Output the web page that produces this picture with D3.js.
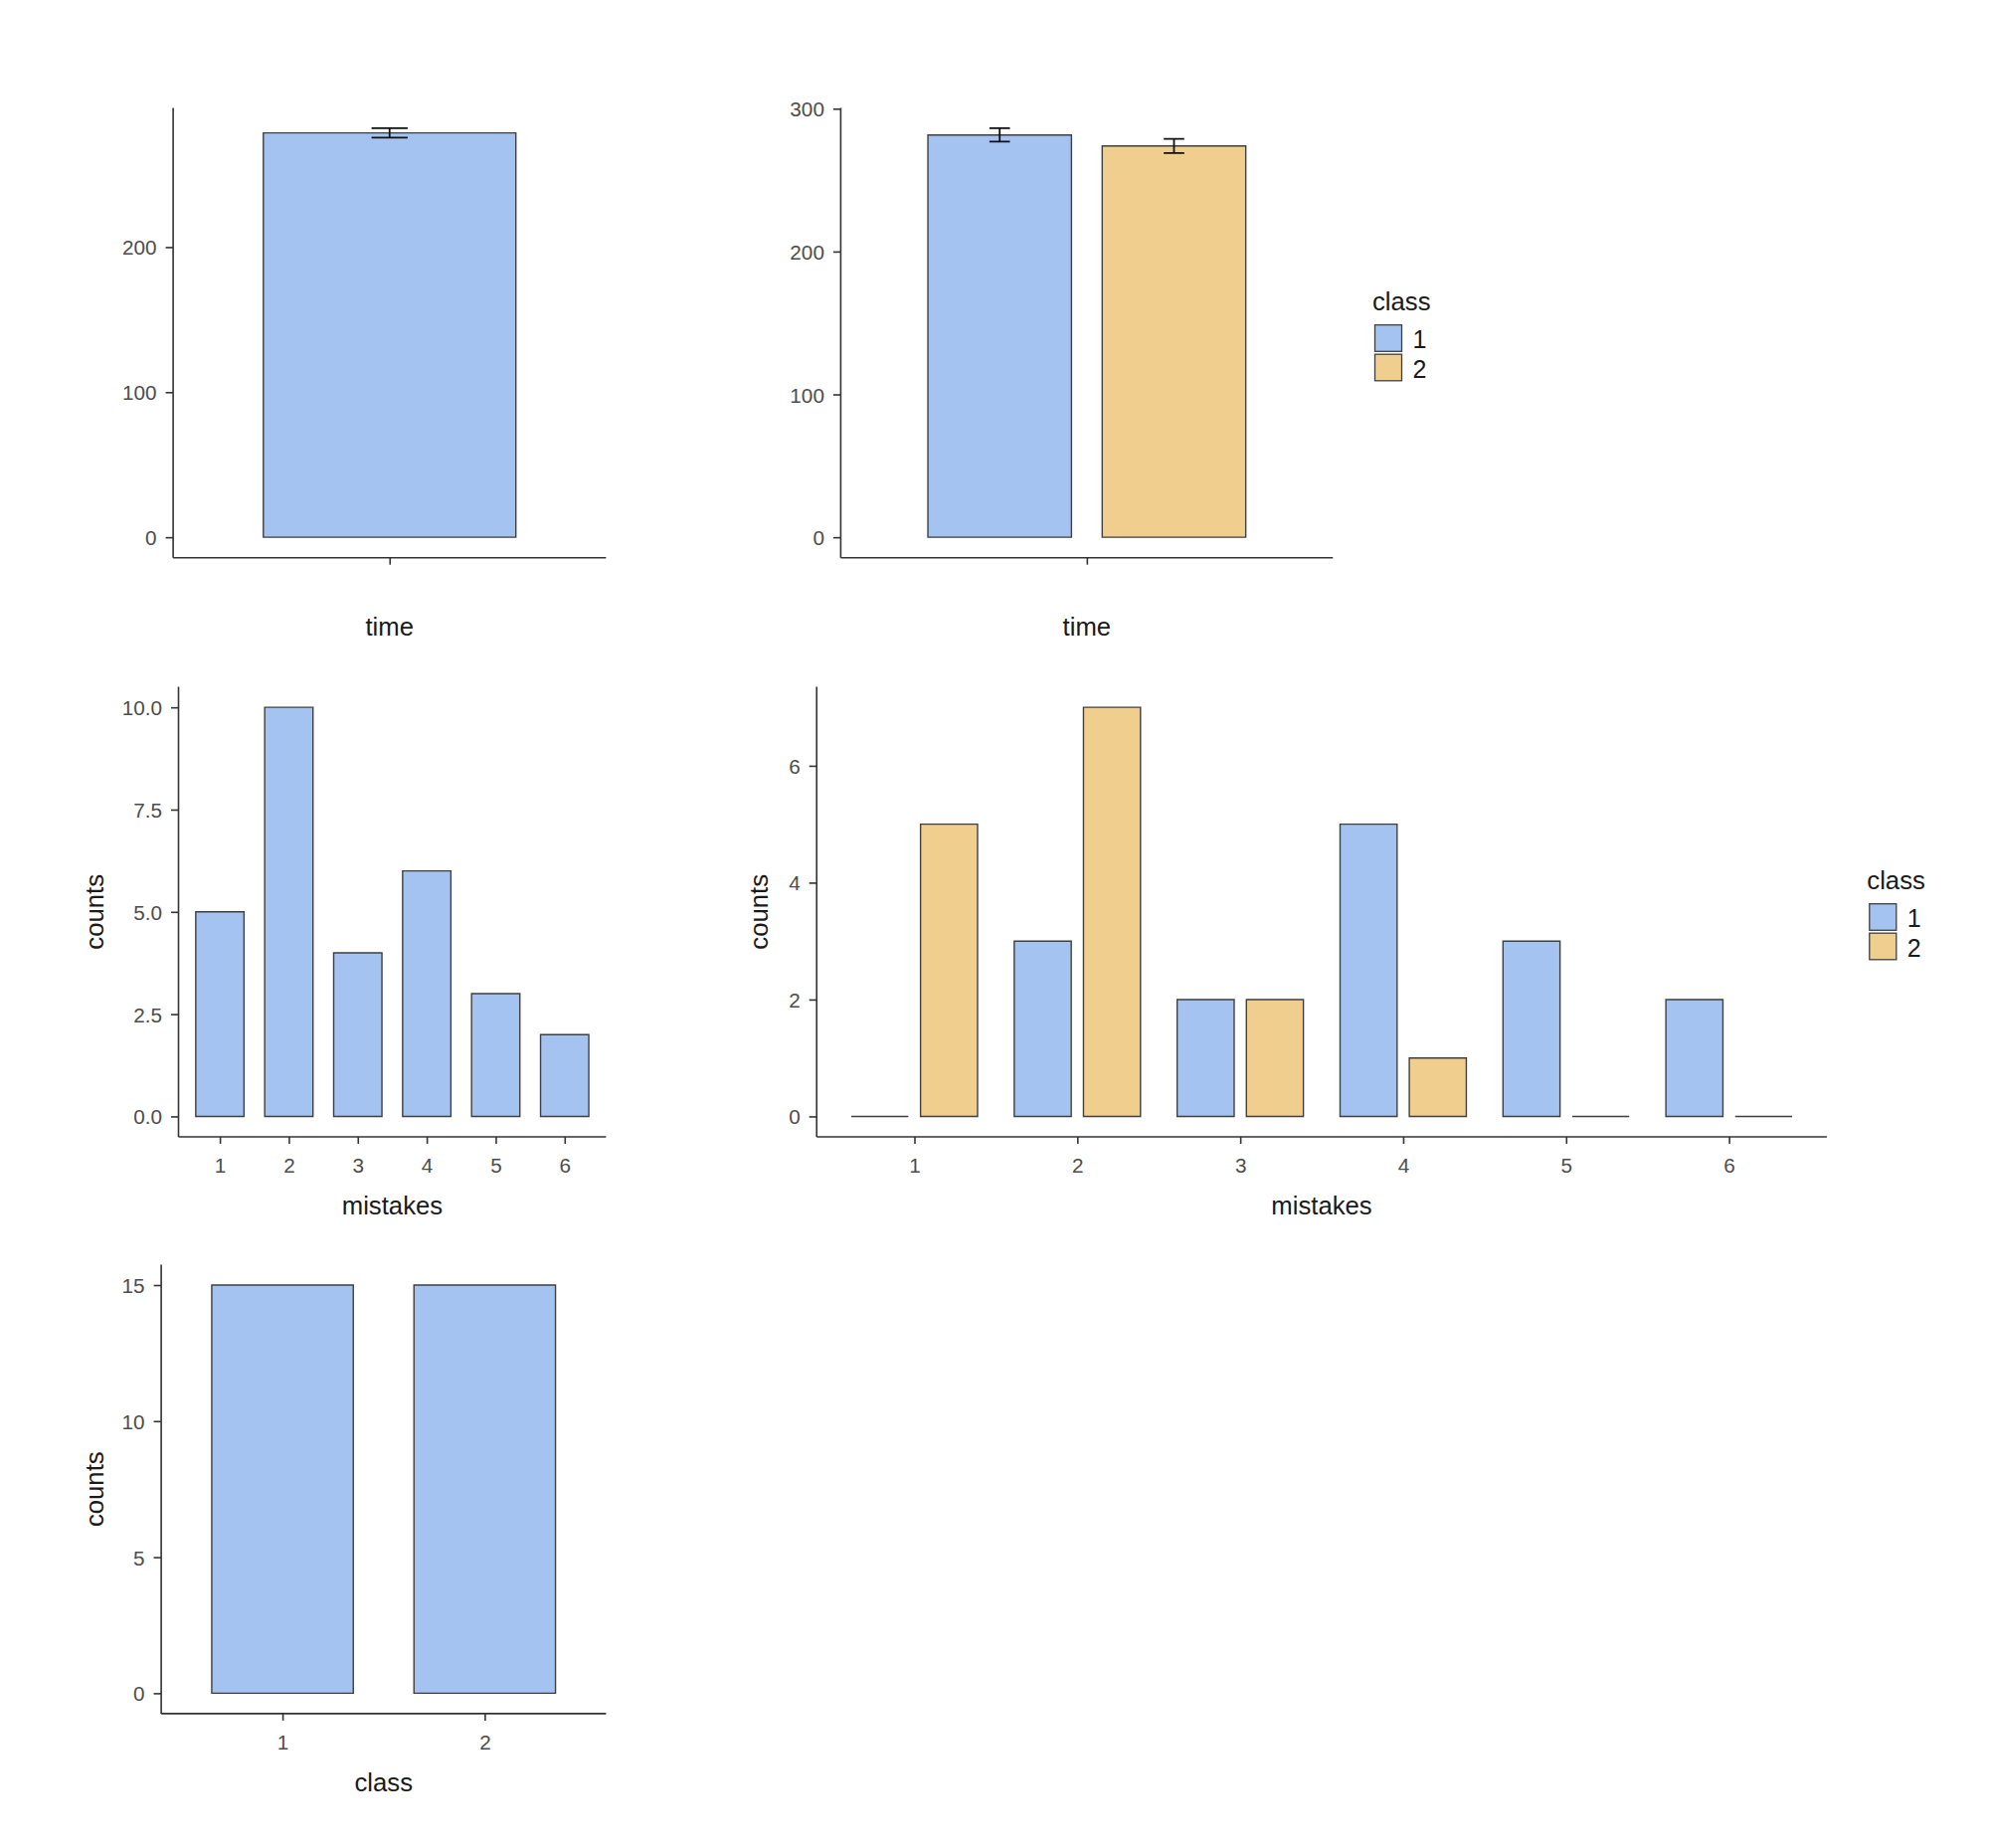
<!DOCTYPE html>
<html>
<head>
<meta charset="utf-8">
<script src="https://cdn.jsdelivr.net/npm/d3@7"></script>
<style>
  html, body { margin: 0; padding: 0; background: #ffffff; }
  svg { display: block; }
  text { font-family: "Liberation Sans", Arial, sans-serif; }
</style>
</head>
<body>
<script>
// ---------------- DATA ----------------
const classes = ["1", "2"];
const classColors = ["#A5C3F0", "#F0CE8E"];

// panel 1: mean time (all)
const timeCategories = ["time"];
const timeMean = [278.7];
const timeSE = [3.2];

// panel 2: mean time by class
const timeByClassMean = [281.6, 273.9];
const timeByClassSE = [4.7, 5.0];

// panel 3: mistakes counts
const mistakeLevels = ["1", "2", "3", "4", "5", "6"];
const mistakeCounts = [5, 10, 4, 6, 3, 2];

// panel 4: mistakes counts by class
const mistakeCountsClass1 = [0, 3, 2, 5, 3, 2];
const mistakeCountsClass2 = [5, 7, 2, 1, 0, 0];

// panel 5: counts per class
const classCounts = [15, 15];

// tick labels
const ticksP1 = [0, 100, 200];
const ticksP2 = [0, 100, 200, 300];
const ticksP3 = [0, 2.5, 5, 7.5, 10];
const ticksP4 = [0, 2, 4, 6];
const ticksP5 = [0, 5, 10, 15];

// ---------------- LAYOUT ----------------
const W = 2000, H = 1858;
const svg = d3.select("body").append("svg").attr("width", W).attr("height", H);

const TICK_FONT = 20.7, TITLE_FONT = 25.7, LEGEND_FONT = 25;
const TICK_COLOR = "#4D4D4D", AXIS_COLOR = "#333333";
const BAR_STROKE = "#3f3f3f";

function yDomain(lo, hi) {
  const r = hi - lo;
  return [lo - 0.05 * r, hi + 0.05 * r];
}

function drawPanel(cfg) {
  const g = svg.append("g");
  const n = cfg.levels.length;
  const x = d3.scaleLinear().domain([0.4, n + 0.6]).range([cfg.left, cfg.right]);
  const y = d3.scaleLinear().domain(cfg.yDom).range([cfg.bottom, cfg.top]);

  // bars
  cfg.bars.forEach(b => {
    const x0 = x(b.pos - b.width / 2), x1 = x(b.pos + b.width / 2);
    const y0 = y(0), y1 = y(b.value);
    const p = d3.path();
    p.moveTo(x0, y0); p.lineTo(x0, y1); p.lineTo(x1, y1); p.lineTo(x1, y0); p.closePath();
    g.append("path").attr("d", p.toString())
      .attr("fill", b.fill).attr("stroke", BAR_STROKE).attr("stroke-width", 1.4);
  });

  // error bars
  (cfg.errs || []).forEach(e => {
    const xc = x(e.pos), xa = x(e.pos - e.cap / 2), xb = x(e.pos + e.cap / 2);
    const yt = y(e.mean + e.se), yb = y(e.mean - e.se);
    const p = d3.path();
    p.moveTo(xa, yt); p.lineTo(xb, yt);
    p.moveTo(xa, yb); p.lineTo(xb, yb);
    p.moveTo(xc, yt); p.lineTo(xc, yb);
    g.append("path").attr("d", p.toString()).attr("fill", "none")
      .attr("stroke", "#111").attr("stroke-width", 1.8);
  });

  // y axis
  const yAxis = d3.axisLeft(y).tickValues(cfg.yTicks).tickSize(7.5).tickPadding(9)
    .tickFormat(cfg.yFormat || d3.format("d"));
  const ya = g.append("g").attr("transform", `translate(${cfg.left},0)`).call(yAxis);
  ya.select(".domain").attr("d", `M0,${cfg.top}V${cfg.bottom}`)
    .attr("stroke", AXIS_COLOR).attr("stroke-width", 1.6);
  ya.selectAll(".tick line").attr("stroke", AXIS_COLOR).attr("stroke-width", 1.6);
  ya.selectAll(".tick text").attr("font-size", TICK_FONT).attr("fill", TICK_COLOR)
    .attr("font-family", '"Liberation Sans", Arial, sans-serif')
    .attr("dy", null).attr("y", 7.5);

  // x axis
  const tickPos = d3.range(1, n + 1);
  const xAxis = d3.axisBottom(x).tickValues(tickPos).tickSize(7).tickPadding(9)
    .tickFormat(i => cfg.xLabels ? cfg.xLabels[i - 1] : "");
  const xa = g.append("g").attr("transform", `translate(0,${cfg.bottom})`).call(xAxis);
  xa.select(".domain").attr("d", `M${cfg.left},0H${cfg.right}`)
    .attr("stroke", AXIS_COLOR).attr("stroke-width", 1.6);
  xa.selectAll(".tick line").attr("stroke", AXIS_COLOR).attr("stroke-width", 1.6);
  xa.selectAll(".tick text").attr("font-size", TICK_FONT).attr("fill", TICK_COLOR)
    .attr("font-family", '"Liberation Sans", Arial, sans-serif')
    .attr("dy", null).attr("y", 36);

  // x title
  g.append("text").attr("x", (cfg.left + cfg.right) / 2).attr("y", cfg.bottom + 78)
    .attr("text-anchor", "middle").attr("font-size", TITLE_FONT).attr("fill", "#1a1a1a")
    .text(cfg.xTitle);

  // y title
  if (cfg.yTitle) {
    const cy = (cfg.top + cfg.bottom) / 2;
    g.append("text").attr("transform", `translate(${cfg.yTitleX},${cy}) rotate(-90)`)
      .attr("text-anchor", "middle").attr("font-size", TITLE_FONT).attr("fill", "#1a1a1a")
      .text(cfg.yTitle);
  }

  // legend
  if (cfg.legend) {
    const L = cfg.legend;
    g.append("text").attr("x", L.x - 2.5).attr("y", L.titleY)
      .attr("font-size", TITLE_FONT).attr("fill", "#1a1a1a").text("class");
    classes.forEach((c, i) => {
      const by = L.titleY + 15.2 + i * 29.5;
      g.append("rect").attr("x", L.x).attr("y", by).attr("width", 27).attr("height", 26.6)
        .attr("fill", classColors[i]).attr("stroke", BAR_STROKE).attr("stroke-width", 1.3);
      g.append("text").attr("x", L.x + 38).attr("y", by + 13.3 + 10)
        .attr("font-size", LEGEND_FONT).attr("fill", "#1a1a1a").text(c);
    });
  }
}

const BW = 0.7;       // bar width
const DODGE = 0.85;   // dodge width
const off = DODGE / 4; // centre offset of each dodged bar

// Panel 1
drawPanel({
  left: 174.1, right: 609.4, top: 108.4, bottom: 560.7,
  levels: timeCategories,
  yDom: yDomain(0, d3.max(timeMean.map((m, i) => m + timeSE[i]))),
  yTicks: ticksP1,
  bars: timeMean.map((v, i) => ({ pos: i + 1, width: BW, value: v, fill: classColors[0] })),
  errs: timeMean.map((m, i) => ({ pos: i + 1, cap: 0.1, mean: m, se: timeSE[i] })),
  xTitle: "time"
});

// Panel 2
drawPanel({
  left: 845.4, right: 1340.3, top: 108.4, bottom: 560.7,
  levels: timeCategories,
  yDom: yDomain(0, d3.max(timeByClassMean.map((m, i) => m + timeByClassSE[i]))),
  yTicks: ticksP2,
  bars: timeByClassMean.map((v, i) => ({ pos: 1 + (i === 0 ? -off : off), width: BW / 2, value: v, fill: classColors[i] })),
  errs: timeByClassMean.map((m, i) => ({ pos: 1 + (i === 0 ? -off : off), cap: 0.05, mean: m, se: timeByClassSE[i] })),
  xTitle: "time",
  legend: { x: 1382.5, titleY: 311.5 }
});

// Panel 3
drawPanel({
  left: 179.5, right: 609.4, top: 690.6, bottom: 1143,
  levels: mistakeLevels,
  yDom: yDomain(0, d3.max(mistakeCounts)),
  yTicks: ticksP3, yFormat: d3.format(".1f"),
  bars: mistakeCounts.map((v, i) => ({ pos: i + 1, width: BW, value: v, fill: classColors[0] })),
  xLabels: mistakeLevels,
  xTitle: "mistakes", yTitle: "counts", yTitleX: 104
});

// Panel 4
const p4bars = [];
mistakeLevels.forEach((m, i) => {
  p4bars.push({ pos: i + 1 - off, width: BW / 2, value: mistakeCountsClass1[i], fill: classColors[0] });
  p4bars.push({ pos: i + 1 + off, width: BW / 2, value: mistakeCountsClass2[i], fill: classColors[1] });
});
drawPanel({
  left: 821.2, right: 1836.9, top: 690.6, bottom: 1143,
  levels: mistakeLevels,
  yDom: yDomain(0, d3.max(mistakeCountsClass1.concat(mistakeCountsClass2))),
  yTicks: ticksP4,
  bars: p4bars,
  xLabels: mistakeLevels,
  xTitle: "mistakes", yTitle: "counts", yTitleX: 772,
  legend: { x: 1879.8, titleY: 893.5 }
});

// Panel 5
drawPanel({
  left: 162.1, right: 609.4, top: 1271.5, bottom: 1722.9,
  levels: classes,
  yDom: yDomain(0, d3.max(classCounts)),
  yTicks: ticksP5,
  bars: classCounts.map((v, i) => ({ pos: i + 1, width: BW, value: v, fill: classColors[0] })),
  xLabels: classes,
  xTitle: "class", yTitle: "counts", yTitleX: 104
});
</script>
</body>
</html>
